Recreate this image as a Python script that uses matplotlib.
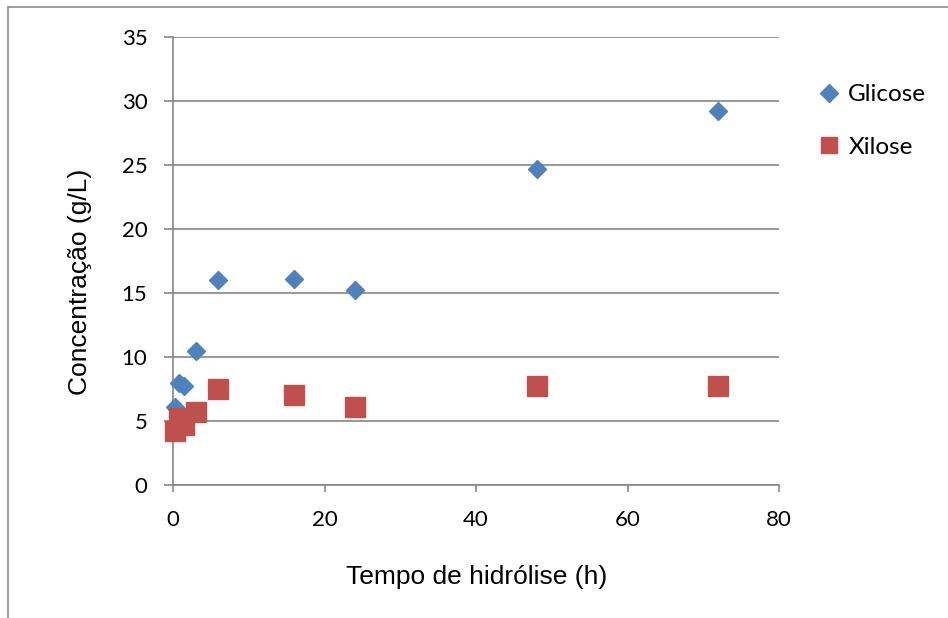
import matplotlib
matplotlib.use("Agg")
import matplotlib.pyplot as plt
from matplotlib.lines import Line2D
from matplotlib.patches import Rectangle

plt.rcParams['font.family'] = ['Lato', 'DejaVu Sans']

# Hydrolysis time (h) and sugar concentrations (g/L)
tempo = [0.25, 0.75, 1.5, 3, 6, 16, 24, 48, 72]
glicose = [6.1, 8.0, 7.7, 10.5, 16.0, 16.1, 15.2, 24.7, 29.2]
xilose = [4.2, 5.2, 4.7, 5.7, 7.5, 7.0, 6.1, 7.7, 7.7]

x_ticks = [0, 20, 40, 60, 80]
y_ticks = [0, 5, 10, 15, 20, 25, 30, 35]

blue = '#4F81BD'
red = '#C0504D'
grid_gray = '#868686'
title_font = ['Liberation Sans', 'DejaVu Sans']

fig = plt.figure(figsize=(9.48, 6.18), dpi=100)
fig.patches.append(Rectangle((8 / 948, -0.1), 1.2, 1.1 - 7 / 618,
                             transform=fig.transFigure, fill=False,
                             edgecolor='#8c8c8c', linewidth=1.2))
ax = fig.add_axes([173 / 948, 1 - 485 / 618, (779 - 173) / 948, (485 - 37) / 618])

ax.set_xlim(0, 80)
ax.set_ylim(0, 35)
ax.set_xticks(x_ticks)
ax.set_yticks(y_ticks)

ax.yaxis.grid(True, color=grid_gray, linewidth=1.2)
ax.set_axisbelow(True)
for s in ['top', 'right']:
    ax.spines[s].set_visible(False)
for s in ['left', 'bottom']:
    ax.spines[s].set_color(grid_gray)
    ax.spines[s].set_linewidth(1.2)
ax.tick_params(axis='both', colors=grid_gray, width=1.2,
               labelsize=16, labelcolor='black')
ax.tick_params(axis='y', length=6.5, pad=12)
ax.tick_params(axis='x', length=5, pad=13)

ax.plot(tempo, glicose, linestyle='none', marker='D', markersize=9.5,
        color=blue, clip_on=False, zorder=3)
ax.plot(tempo, xilose, linestyle='none', marker='s', markersize=14,
        color=red, clip_on=False, zorder=3)

ax.set_xlabel('Tempo de hidrólise (h)', fontsize=19, family=title_font)
ax.xaxis.set_label_coords((477 - 173) / 606, -(577 - 485) / 448)
ax.xaxis.label.set_verticalalignment('center')
ax.set_ylabel('Concentração (g/L)', fontsize=19, family=title_font)
ax.yaxis.set_label_coords(-(173 - 80) / 606, (485 - 282) / 448)
ax.yaxis.label.set_verticalalignment('center')

handles = [
    Line2D([], [], linestyle='none', marker='D', markersize=9.5, color=blue),
    Line2D([], [], linestyle='none', marker='s', markersize=12, color=red),
]
fig.legend(handles, ['Glicose', 'Xilose'], loc='upper left',
           bbox_to_anchor=(807 / 948, 1 - 72 / 618), frameon=False,
           fontsize=17.5, handlelength=0.8, handletextpad=0.4,
           labelspacing=1.3, borderpad=0)

fig.savefig('out.png', dpi=100)
